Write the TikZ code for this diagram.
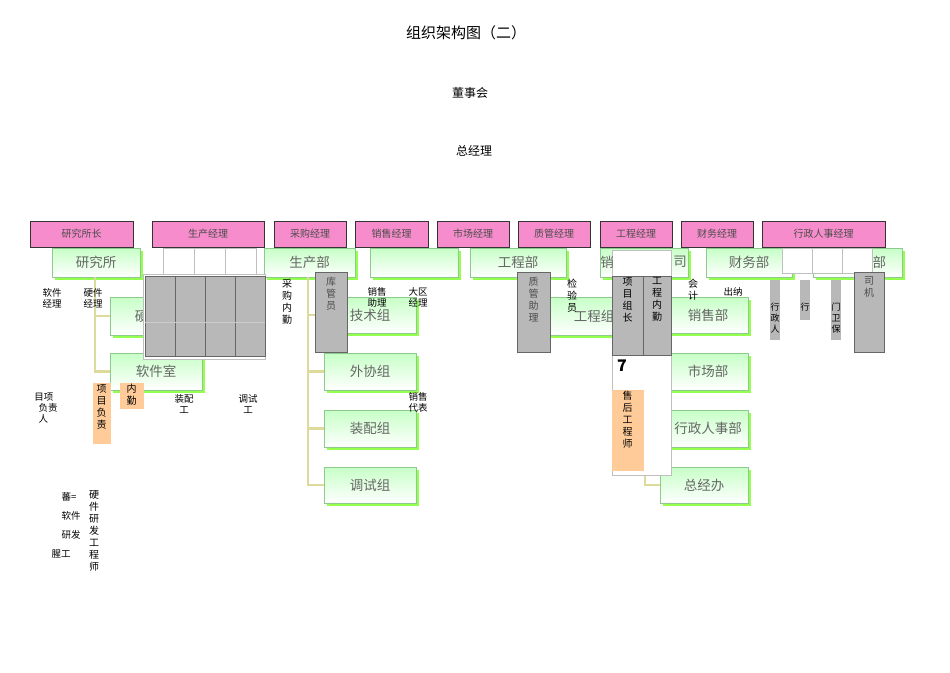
\documentclass[tikz,border=0pt]{standalone}
\usepackage{fontspec}
\setmainfont{Noto Sans CJK SC}
\begin{document}
\begin{tikzpicture}[x=1pt,y=-1pt,
  pinkbox/.style={draw=black!80,line width=0.8pt,fill=magenta!45!white,minimum height=26pt,inner sep=0pt,font=\fontsize{10}{10}\selectfont,text=black!70},
  grn/.style={draw=green!55!black!45,line width=0.6pt,top color=green!22!white,bottom color=white,inner sep=0pt,font=\fontsize{13.5}{13.5}\selectfont,text=black!60},
  sh/.style={fill=green!60!yellow!70,draw=none},
  gray/.style={draw=black!60,fill=black!28,inner sep=0pt},
  wbox/.style={draw=black!25,fill=white,inner sep=0pt},
  orange/.style={draw=orange!40,fill=orange!40,inner sep=0pt},
  txt/.style={font=\fontsize{9.5}{11}\selectfont,align=center,inner sep=0pt},
  vtxt/.style={font=\fontsize{10}{12}\selectfont,align=center,inner sep=0pt},
  conn/.style={draw=olive!30!white,line width=2.5pt}]
\useasboundingbox (0,0) rectangle (950,672);
% titles
\node[font=\fontsize{15}{15}\selectfont] (title) at (466,33) {组织架构图（二）};
\node[font=\fontsize{12}{12}\selectfont] (dsh) at (470,93) {董事会};
\node[font=\fontsize{12}{12}\selectfont] (zjl) at (474,151) {总经理};
\newcommand{\gbox}[6]{%
 \fill[sh] (#2+3,#3+3) rectangle (#4+3,#5+3);
 \node[grn,minimum width=#4-#2,minimum height=#5-#3] (#1) at ({(#2+#4)/2},{(#3+#5)/2}) {#6};}
\gbox{ying}{110}{297}{200}{335}{硬件室}
\gbox{ruan}{110}{353}{202}{390}{软件室}
\gbox{jsz}{324}{297}{416}{333}{技术组}
\gbox{wxz}{324}{353}{416}{390}{外协组}
\gbox{zpz}{324}{410}{416}{447}{装配组}
\gbox{tsz}{324}{467}{416}{503}{调试组}
\gbox{gcz}{548}{297}{640}{335}{工程组}
\gbox{xsb}{668}{297}{748}{333}{销售部}
\gbox{scb}{668}{353}{748}{390}{市场部}
\gbox{xzb}{668}{410}{748}{447}{行政人事部}
\gbox{zjb}{660}{467}{748}{503}{总经办}
\gbox{yjs}{52}{248}{140}{277}{研究所}
\gbox{scb2}{264}{248}{355}{277}{生产部}
\gbox{blank1}{370}{248}{458}{277}{}
\gbox{gcb}{470}{248}{566}{277}{工程部}
\gbox{xsgs}{600}{248}{688}{277}{销售公司}
\gbox{cwb}{706}{248}{792}{277}{财务部}
\gbox{rsb}{813}{248}{902}{277}{\hspace*{30pt}事部}
\draw[conn] (yjs.south -| 95,0) |- (ying.west);
\draw[conn] (yjs.south -| 95,0) |- (ruan.west);
\draw[conn] (scb2.south -| 308,0) |- (jsz.west);
\draw[conn] (scb2.south -| 308,0) |- (wxz.west);
\draw[conn] (scb2.south -| 308,0) |- (zpz.west);
\draw[conn] (scb2.south -| 308,0) |- (tsz.west);
\draw[conn] (xsgs.south -| 645,0) |- (zjb.west);
% white overlays
\foreach \i in {0,1,2} \draw[wbox] (163+\i*31,248) rectangle (194+\i*31,276);
\draw[wbox] (612,250) rectangle (671,475);
\node[font=\fontsize{13.5}{13.5}\selectfont,text=black!60,inner sep=0pt] (xsgsL) at (607,262) {销};
\node[font=\fontsize{13.5}{13.5}\selectfont,text=black!60,inner sep=0pt] (xsgsR) at (680,262) {司};
\foreach \i in {0,1,2} \draw[wbox] (782+\i*30,248) rectangle (812+\i*30,273);
% pink boxes
\node[pinkbox,minimum width=103pt] (p1) at (81.5,234) {研究所长};
\node[pinkbox,minimum width=112pt] (p2) at (208,234) {生产经理};
\node[pinkbox,minimum width=72pt] (p3) at (310,234) {采购经理};
\node[pinkbox,minimum width=73pt] (p4) at (391.5,234) {销售经理};
\node[pinkbox,minimum width=72pt] (p5) at (473,234) {市场经理};
\node[pinkbox,minimum width=72pt] (p6) at (554,234) {质管经理};
\node[pinkbox,minimum width=72pt] (p7) at (636,234) {工程经理};
\node[pinkbox,minimum width=72pt] (p8) at (717,234) {财务经理};
\node[pinkbox,minimum width=123pt] (p9) at (823.5,234) {行政人事经理};
% gray boxes
\draw[wbox] (143,274) rectangle (265,359);
\foreach \i in {0,1,2,3} \draw[gray] (145+\i*30,276) rectangle (175+\i*30,356);
\draw[black!20,line width=0.4pt] (145,322) -- (265,322);
\node[gray,minimum width=32pt,minimum height=80pt,anchor=north west] (kgy) at (315,272) {};
\node[vtxt,anchor=north,text=black!70] at ([yshift=-5pt]kgy.north) {库\\管\\员};
\node[gray,minimum width=33pt,minimum height=80pt,anchor=north west] (zgzl) at (517,272) {};
\node[vtxt,anchor=north,text=black!70] at ([yshift=-5pt]zgzl.north) {质\\管\\助\\理};
\node[gray,minimum width=31pt,minimum height=79pt,anchor=north west] (xmzz) at (612,276) {};
\node[vtxt,anchor=north] at ([yshift=-1pt]xmzz.north) {项\\目\\组\\长};
\node[gray,minimum width=28pt,minimum height=79pt,anchor=north west] (gcnq) at (643,276) {};
\node[vtxt,anchor=north] at ([yshift=-1pt]gcnq.north) {工\\程\\内\\勤};
\node[gray,minimum width=30pt,minimum height=80pt,anchor=north west] (sj) at (854,272) {};
\node[vtxt,anchor=north,text=black!70] at ([yshift=-5pt]sj.north) {司\\机};
\node[gray,draw=none,minimum width=10pt,minimum height=60pt,anchor=north west] (g1) at (770,280) {};
\node[vtxt,anchor=north,font=\fontsize{9}{11}\selectfont] at ([yshift=-23pt]g1.north) {行\\政\\人};
\node[gray,draw=none,minimum width=10pt,minimum height=40pt,anchor=north west] (g2) at (800,280) {};
\node[vtxt,anchor=north,font=\fontsize{9}{11}\selectfont] at ([yshift=-23pt]g2.north) {行};
\node[gray,draw=none,minimum width=10pt,minimum height=60pt,anchor=north west] (g3) at (831,280) {};
\node[vtxt,anchor=north,font=\fontsize{9}{11}\selectfont] at ([yshift=-23pt]g3.north) {门\\卫\\保};
% orange
\node[orange,minimum width=31pt,minimum height=80pt,anchor=north west] (shgc) at (612,390) {};
\node[vtxt,anchor=north] at ([yshift=-1pt]shgc.north) {售\\后\\工\\程\\师};
\node[orange,minimum width=17pt,minimum height=60pt,anchor=north west] (xmfz) at (93,383) {};
\node[vtxt,anchor=north] at ([yshift=-1pt]xmfz.north) {项\\目\\负\\责};
\node[orange,minimum width=23pt,minimum height=25pt,anchor=north west] (nq) at (120,383) {};
\node[vtxt,anchor=north] at ([yshift=-1pt]nq.north) {内\\勤};
\node[font=\bfseries\fontsize{16}{16}\selectfont] (seven) at (622,366) {7};
% free texts
\node[txt] (t1) at (52,298) {软件\\经理};
\node[txt] (t2) at (93,298) {硬件\\经理};
\node[vtxt,anchor=north] (t3) at (287,279) {采\\购\\内\\勤};
\node[txt] (t4) at (377,297) {销售\\助理};
\node[txt] (t5) at (418,297) {大区\\经理};
\node[txt] (t6) at (418,402) {销售\\代表};
\node[vtxt,anchor=north] (t7) at (572,279) {检\\验\\员};
\node[vtxt,anchor=north] (t8) at (693,279) {会\\计};
\node[txt] (t9) at (733,292) {出纳};
\node[txt,align=left] (t10) at (46,408) {目项\\\ \ 负责\\\ \ 人};
\node[txt] (t11) at (184,404) {装配\\工};
\node[txt] (t12) at (248,404) {调试\\工};
\node[txt,align=left,font=\fontsize{9.5}{19}\selectfont] (t13) at (71,516) {蕃=\\软件\\研发};
\node[txt] (t14) at (61,554) {腥工};
\node[vtxt,anchor=north] (t15) at (94,490) {硬\\件\\研\\发\\工\\程\\师};
\end{tikzpicture}
\end{document}
